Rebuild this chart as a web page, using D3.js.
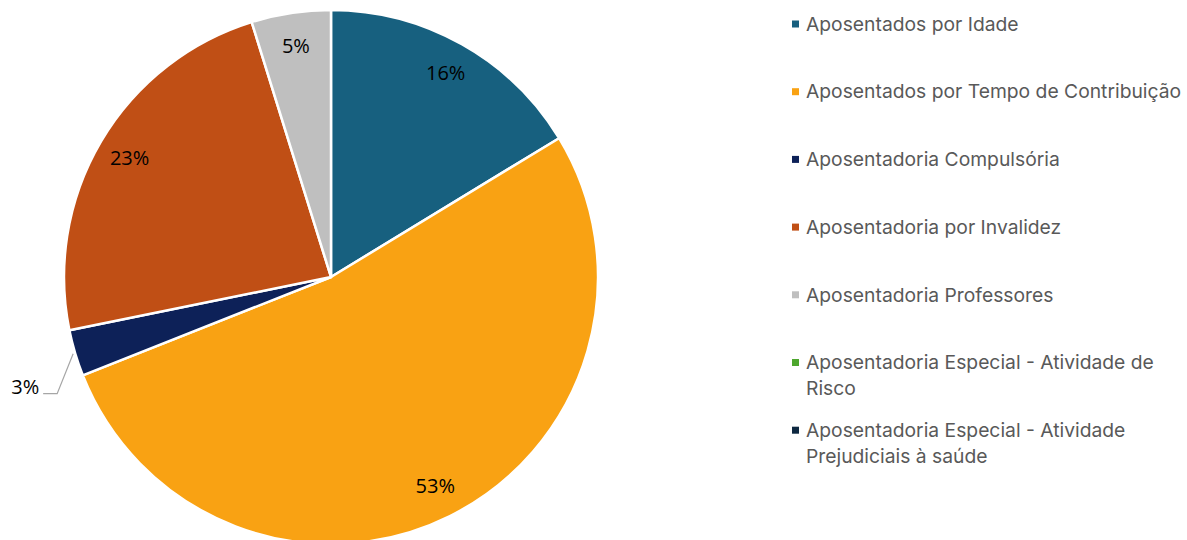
<!DOCTYPE html>
<html>
<head>
<meta charset="utf-8">
<script src="https://cdn.jsdelivr.net/npm/d3@7"></script>
<style>
  body { margin: 0; background: #fff; }
  svg { display: block; }
</style>
</head>
<body>
<div id="chart"></div>
<script>
var width = 1187;
var height = 540;

var categories = [
  "Aposentados por Idade",
  "Aposentados por Tempo de Contribuição",
  "Aposentadoria Compulsória",
  "Aposentadoria por Invalidez",
  "Aposentadoria Professores",
  "Aposentadoria Especial - Atividade de Risco",
  "Aposentadoria Especial - Atividade Prejudiciais à saúde"
];
var legendLines = [
  ["Aposentados por Idade"],
  ["Aposentados por Tempo de Contribuição"],
  ["Aposentadoria Compulsória"],
  ["Aposentadoria por Invalidez"],
  ["Aposentadoria Professores"],
  ["Aposentadoria Especial - Atividade de", "Risco"],
  ["Aposentadoria Especial - Atividade", "Prejudiciais à saúde"]
];
var values = [16.3, 52.7, 2.8, 23.4, 4.8, 0, 0];
var colors = ["#17607f", "#f9a213", "#0d2158", "#c04f15", "#bfbfbf", "#4ea72e", "#0e2841"];

var cx = 331, cy = 277, radius = 267;

var svg = d3.select('#chart').append('svg')
  .attr('width', width)
  .attr('height', height);

var color = d3.scaleOrdinal().domain(categories).range(colors);

var pie = d3.pie()
  .value(function (d, i) { return values[i]; })
  .sort(null);

var arcs = pie(categories);
var total = d3.sum(values);

var arc = d3.arc().innerRadius(0).outerRadius(radius);
var labelArc = d3.arc().innerRadius(234).outerRadius(234);

var g = svg.append('g')
  .attr('transform', 'translate(' + cx + ',' + cy + ')');

g.selectAll('path.slice')
  .data(arcs.filter(function (d) { return d.value > 0; }))
  .enter().append('path')
  .attr('class', 'slice')
  .attr('d', arc)
  .attr('fill', function (d) { return color(d.data); })
  .attr('stroke', '#fff')
  .attr('stroke-width', 2.5)
  .attr('stroke-linejoin', 'round');

var labelFont = 'Open Sans, sans-serif';

// labels inside slices, except the small one which gets a leader line
arcs.forEach(function (d) {
  if (d.value <= 0) return;
  var pct = Math.round(d.value / total * 100) + '%';
  if (d.value / total < 0.04) {
    var mid = (d.startAngle + d.endAngle) / 2;
    var p0 = [Math.sin(mid) * (radius + 2), -Math.cos(mid) * (radius + 2)];
    var p1 = [p0[0] - 16, p0[1] + 40];
    var p2 = [p1[0] - 14, p1[1]];
    g.append('polyline')
      .attr('points', [p0, p1, p2].map(function (p) { return p.join(','); }).join(' '))
      .attr('fill', 'none')
      .attr('stroke', '#a6a6a6')
      .attr('stroke-width', 1.2);
    g.append('text')
      .attr('x', p2[0] - 4)
      .attr('y', p2[1] - 7)
      .attr('dy', '0.35em')
      .attr('text-anchor', 'end')
      .style('font-family', labelFont)
      .style('font-size', '20px')
      .attr('fill', '#000')
      .text(pct);
  } else {
    var c = labelArc.centroid(d);
    g.append('text')
      .attr('x', c[0])
      .attr('y', c[1])
      .attr('dy', '0.35em')
      .attr('text-anchor', 'middle')
      .style('font-family', labelFont)
      .style('font-size', '20px')
      .attr('fill', '#000')
      .text(pct);
  }
});

// legend
var legendX = 792, legendY0 = 24, legendStep = 67.7;
var legend = svg.selectAll('g.legend')
  .data(categories)
  .enter().append('g')
  .attr('class', 'legend')
  .attr('transform', function (d, i) { return 'translate(' + legendX + ',' + (legendY0 + i * legendStep) + ')'; });

legend.append('rect')
  .attr('x', 0)
  .attr('y', -3.5)
  .attr('width', 7)
  .attr('height', 7)
  .attr('fill', function (d) { return color(d); });

legend.append('text')
  .attr('x', 14)
  .attr('y', 0)
  .style('font-family', 'Inter, sans-serif')
  .style('font-size', '19.3px')
  .attr('fill', '#595959')
  .each(function (d, i) {
    var t = d3.select(this);
    legendLines[i].forEach(function (line, j) {
      t.append('tspan')
        .attr('x', 14)
        .attr('dy', j === 0 ? '0.35em' : '26px')
        .text(line);
    });
  });
</script>
</body>
</html>
